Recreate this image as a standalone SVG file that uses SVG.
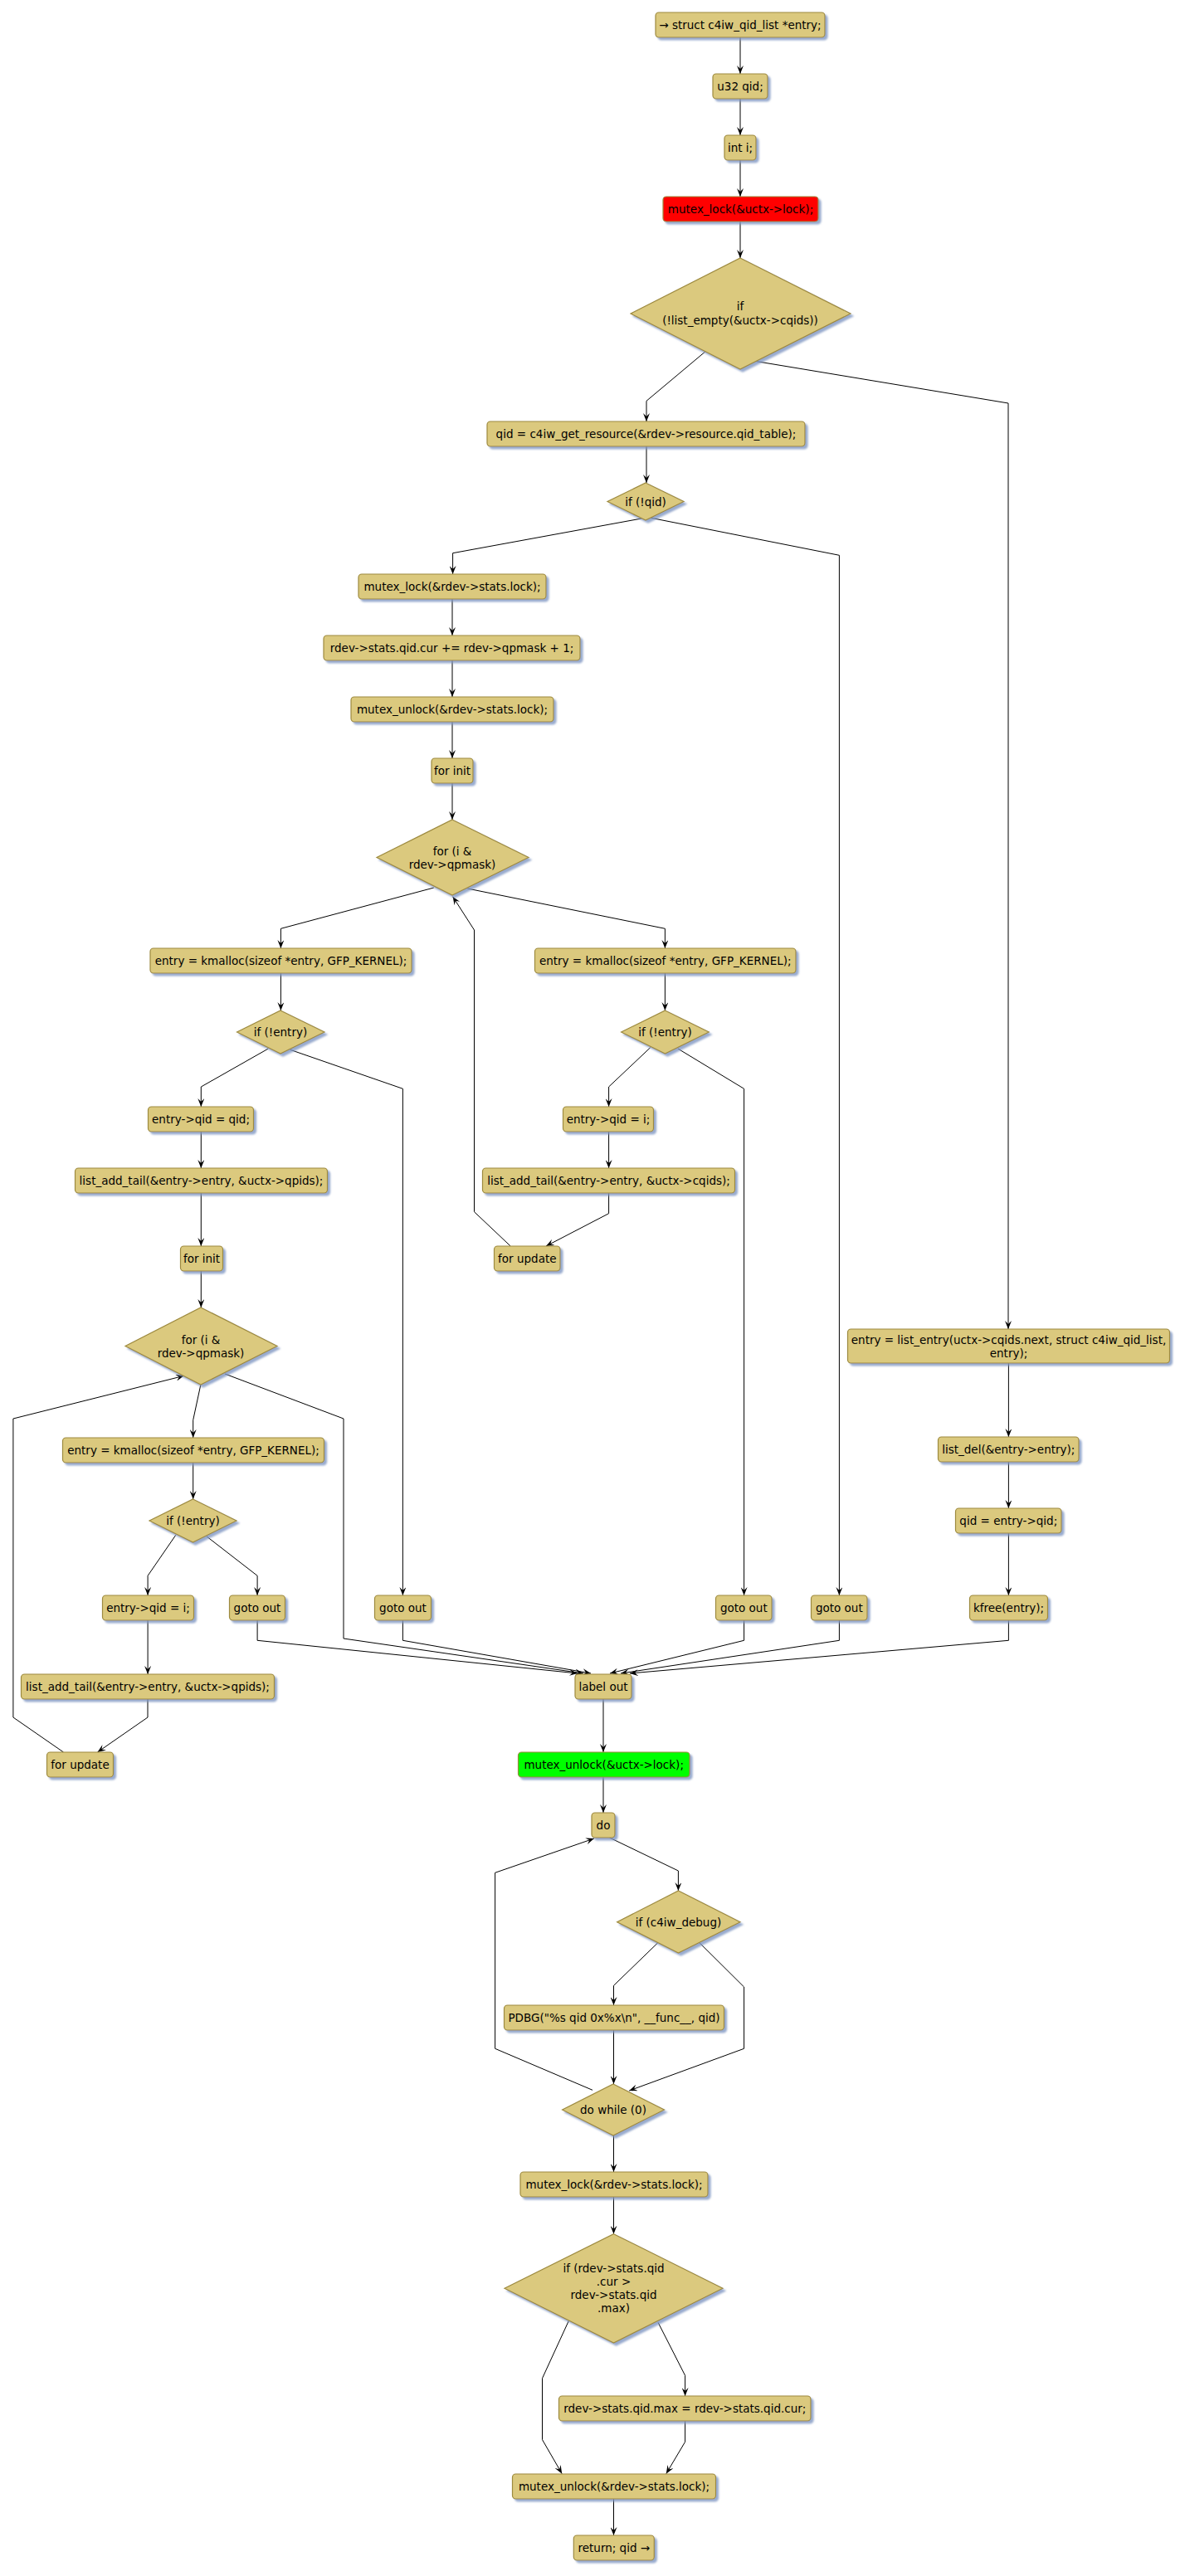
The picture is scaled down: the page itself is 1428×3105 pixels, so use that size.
<svg xmlns="http://www.w3.org/2000/svg" width="1428" height="3105" viewBox="0 0 1428 3105">
<style>
.b{fill:#DBC97E;stroke:#9D8A3F;stroke-width:1.2;filter:url(#sh)}
.red{fill:#FF0000}
.grn{fill:#00FF00}
text{font-family:"DejaVu Sans","Liberation Sans",sans-serif;font-size:13.5px;fill:#000;text-anchor:middle}
.e{fill:none;stroke:#000;stroke-width:1;marker-end:url(#ar)}
</style>
<defs>
<filter id="sh" x="-10%" y="-20%" width="130%" height="150%">
<feDropShadow dx="3" dy="3" stdDeviation="1" flood-color="#7F95C2" flood-opacity="0.8"/>
</filter>
<marker id="ar" viewBox="0 0 10 8" refX="10" refY="4" markerWidth="10" markerHeight="8" markerUnits="userSpaceOnUse" orient="auto">
<path d="M0,0 L10,4 L0,8 L4,4 Z" fill="#000"/>
</marker>
</defs>
<rect width="1428" height="3105" fill="#FFFFFF"/>
<g id="connectors">
<polyline class="e" points="892,45 892,89"/>
<polyline class="e" points="892,119 892,163"/>
<polyline class="e" points="892,193 892,237"/>
<polyline class="e" points="892,267 892,311"/>
<polyline class="e" points="849.7,424 779,483.3 779,508"/>
<polyline class="e" points="909.8,435.3 1215,486 1215,1602"/>
<polyline class="e" points="779,538 779,582"/>
<polyline class="e" points="773,625 545.6,666.7 545.6,692"/>
<polyline class="e" points="784.6,624.3 1011.4,669.3 1011.4,1923"/>
<polyline class="e" points="545,722 545,766"/>
<polyline class="e" points="545,796 545,840"/>
<polyline class="e" points="545,870 545,914"/>
<polyline class="e" points="545,944 545,988"/>
<polyline class="e" points="522.8,1070 338.4,1119.3 338.4,1143"/>
<polyline class="e" points="563.3,1071 801.4,1119.3 801.4,1143"/>
<polyline class="e" points="338.4,1173 338.4,1218"/>
<polyline class="e" points="323.3,1264 242.3,1310 242.3,1334"/>
<polyline class="e" points="349.7,1265.3 485.4,1312.3 485.4,1923"/>
<polyline class="e" points="242.3,1364 242.3,1408"/>
<polyline class="e" points="242.3,1438 242.3,1502"/>
<polyline class="e" points="242.3,1532 242.3,1576"/>
<polyline class="e" points="241.8,1669.3 232.7,1711.7 232.7,1733"/>
<polyline class="e" points="271,1656 414,1710 414,1975 703,2017"/>
<polyline class="e" points="232.7,1763 232.7,1807"/>
<polyline class="e" points="211.8,1850.3 178.1,1899.3 178.1,1923"/>
<polyline class="e" points="249.1,1852 310.1,1899.3 310.1,1923"/>
<polyline class="e" points="178.1,1953 178.1,2018"/>
<polyline class="e" points="178,2048 178,2070 117.5,2112"/>
<polyline class="e" points="76.5,2112 15.9,2070 15.9,1710 221.8,1658.3"/>
<polyline class="e" points="310.1,1953 310.1,1977.3 696,2017"/>
<polyline class="e" points="485.4,1953 485.4,1977.3 712,2017"/>
<polyline class="e" points="801.4,1173 801.4,1218"/>
<polyline class="e" points="783.7,1262.7 733.6,1310 733.6,1334"/>
<polyline class="e" points="816.9,1264 896.6,1312.3 896.6,1923"/>
<polyline class="e" points="733.6,1364 733.6,1408"/>
<polyline class="e" points="733.6,1438 733.6,1462.7 658,1502"/>
<polyline class="e" points="615.2,1502 571.5,1460.7 571.5,1121 545.6,1080.7"/>
<polyline class="e" points="896.6,1953 896.6,1977.3 735,2017"/>
<polyline class="e" points="1011.4,1953 1011.4,1977.3 748,2017"/>
<polyline class="e" points="1215.4,1643 1215.4,1732"/>
<polyline class="e" points="1215.4,1762 1215.4,1818"/>
<polyline class="e" points="1215.4,1848 1215.4,1923"/>
<polyline class="e" points="1215.4,1953 1215.4,1977.3 759,2017"/>
<polyline class="e" points="727,2048 727,2112"/>
<polyline class="e" points="727,2142 727,2185"/>
<polyline class="e" points="734.5,2215 817.4,2255 817.4,2279"/>
<polyline class="e" points="792.8,2341.7 739.5,2393.3 739.5,2417"/>
<polyline class="e" points="842.9,2341.7 896.6,2395 896.6,2469.3 758.2,2520"/>
<polyline class="e" points="739.5,2447 739.5,2512"/>
<polyline class="e" points="714,2519.3 596.6,2469.3 596.6,2257.3 716,2216"/>
<polyline class="e" points="739.5,2574 739.5,2618"/>
<polyline class="e" points="739.5,2648 739.5,2692.7"/>
<polyline class="e" points="793,2799.3 825.6,2863.3 825.6,2888"/>
<polyline class="e" points="685.4,2797.3 653.5,2866.7 653.5,2940.7 677.2,2981.7"/>
<polyline class="e" points="825.6,2918 825.6,2943.3 802.8,2981.7"/>
<polyline class="e" points="739.5,3012 739.5,3056"/>
</g>
<g id="n1"><rect class="b" x="790" y="15" width="204" height="30" rx="4"/><text x="892" y="35">→ struct c4iw_qid_list *entry;</text></g>
<g id="n2"><rect class="b" x="859" y="89" width="66" height="30" rx="4"/><text x="892" y="109">u32 qid;</text></g>
<g id="n3"><rect class="b" x="873" y="163" width="38" height="30" rx="4"/><text x="892" y="183">int i;</text></g>
<g id="n4"><rect class="b red" x="799" y="237" width="187" height="30" rx="4"/><text x="892.5" y="257">mutex_lock(&amp;uctx-&gt;lock);</text></g>
<g id="d1"><polygon class="b" points="892,311 1025,378 892,445 760,378"/><text x="892" y="373.5">if</text><text x="892" y="391">(!list_empty(&amp;uctx-&gt;cqids))</text></g>
<g id="n5"><rect class="b" x="587" y="508" width="383" height="30" rx="4"/><text x="778.5" y="528">qid = c4iw_get_resource(&amp;rdev-&gt;resource.qid_table);</text></g>
<g id="d2"><polygon class="b" points="778,582 824,604.5 778,627 732,604.5"/><text x="778" y="609.5">if (!qid)</text></g>
<g id="n6"><rect class="b" x="432" y="692" width="226" height="30" rx="4"/><text x="545" y="712">mutex_lock(&amp;rdev-&gt;stats.lock);</text></g>
<g id="n7"><rect class="b" x="390" y="766" width="309" height="30" rx="4"/><text x="544.5" y="786">rdev-&gt;stats.qid.cur += rdev-&gt;qpmask + 1;</text></g>
<g id="n8"><rect class="b" x="423" y="840" width="244" height="30" rx="4"/><text x="545" y="860">mutex_unlock(&amp;rdev-&gt;stats.lock);</text></g>
<g id="n9"><rect class="b" x="520" y="914" width="50" height="30" rx="4"/><text x="545" y="934">for init</text></g>
<g id="d3"><polygon class="b" points="545,988 637,1033.5 545,1079 454,1033.5"/><text x="545" y="1030.5">for (i &amp;</text><text x="545" y="1046.5">rdev-&gt;qpmask)</text></g>
<g id="n10"><rect class="b" x="181" y="1143" width="315" height="30" rx="4"/><text x="338.5" y="1163">entry = kmalloc(sizeof *entry, GFP_KERNEL);</text></g>
<g id="d4"><polygon class="b" points="338,1218 391,1244 338,1270 285.5,1244"/><text x="338" y="1249">if (!entry)</text></g>
<g id="n11"><rect class="b" x="178.5" y="1334" width="127" height="30" rx="4"/><text x="242" y="1354">entry-&gt;qid = qid;</text></g>
<g id="n12"><rect class="b" x="90.5" y="1408" width="304" height="30" rx="4"/><text x="242.5" y="1428">list_add_tail(&amp;entry-&gt;entry, &amp;uctx-&gt;qpids);</text></g>
<g id="n13"><rect class="b" x="217.5" y="1502" width="51" height="30" rx="4"/><text x="243" y="1522">for init</text></g>
<g id="d5"><polygon class="b" points="242,1576 334,1622.5 242,1669 151,1622.5"/><text x="242" y="1619.5">for (i &amp;</text><text x="242" y="1635.5">rdev-&gt;qpmask)</text></g>
<g id="n14"><rect class="b" x="75.5" y="1733" width="315" height="30" rx="4"/><text x="233" y="1753">entry = kmalloc(sizeof *entry, GFP_KERNEL);</text></g>
<g id="d6"><polygon class="b" points="232.5,1807 285,1833 232.5,1859 180,1833"/><text x="232.5" y="1838">if (!entry)</text></g>
<g id="n15"><rect class="b" x="123.5" y="1923" width="110" height="30" rx="4"/><text x="178.5" y="1943">entry-&gt;qid = i;</text></g>
<g id="n16"><rect class="b" x="276.5" y="1923" width="67" height="30" rx="4"/><text x="310" y="1943">goto out</text></g>
<g id="n17"><rect class="b" x="25.5" y="2018" width="305" height="30" rx="4"/><text x="178" y="2038">list_add_tail(&amp;entry-&gt;entry, &amp;uctx-&gt;qpids);</text></g>
<g id="n18"><rect class="b" x="56.5" y="2112" width="80" height="30" rx="4"/><text x="96.5" y="2132">for update</text></g>
<g id="n19"><rect class="b" x="451.5" y="1923" width="68" height="30" rx="4"/><text x="485.5" y="1943">goto out</text></g>
<g id="n20"><rect class="b" x="644.5" y="1143" width="314.5" height="30" rx="4"/><text x="801.7" y="1163">entry = kmalloc(sizeof *entry, GFP_KERNEL);</text></g>
<g id="d7"><polygon class="b" points="801.5,1218 854.3,1244 801.5,1270 748.6,1244"/><text x="801.5" y="1249">if (!entry)</text></g>
<g id="n21"><rect class="b" x="678.5" y="1334" width="109" height="30" rx="4"/><text x="733" y="1354">entry-&gt;qid = i;</text></g>
<g id="n22"><rect class="b" x="581.5" y="1408" width="304" height="30" rx="4"/><text x="733.5" y="1428">list_add_tail(&amp;entry-&gt;entry, &amp;uctx-&gt;cqids);</text></g>
<g id="n23"><rect class="b" x="595.5" y="1502" width="79.5" height="30" rx="4"/><text x="635.3" y="1522">for update</text></g>
<g id="n24"><rect class="b" x="862.5" y="1923" width="67.5" height="30" rx="4"/><text x="896.3" y="1943">goto out</text></g>
<g id="n25"><rect class="b" x="977.5" y="1923" width="67.5" height="30" rx="4"/><text x="1011.3" y="1943">goto out</text></g>
<g id="n26"><rect class="b" x="1021.5" y="1602" width="388" height="41" rx="4"/><text x="1215.5" y="1619.5">entry = list_entry(uctx-&gt;cqids.next, struct c4iw_qid_list,</text><text x="1215.5" y="1635.5">entry);</text></g>
<g id="n27"><rect class="b" x="1130.5" y="1732" width="169.5" height="30" rx="4"/><text x="1215.3" y="1752">list_del(&amp;entry-&gt;entry);</text></g>
<g id="n28"><rect class="b" x="1151.5" y="1818" width="127.5" height="30" rx="4"/><text x="1215.3" y="1838">qid = entry-&gt;qid;</text></g>
<g id="n29"><rect class="b" x="1168.5" y="1923" width="94" height="30" rx="4"/><text x="1215.5" y="1943">kfree(entry);</text></g>
<g id="n30"><rect class="b" x="693" y="2018" width="68" height="30" rx="4"/><text x="727" y="2038">label out</text></g>
<g id="n31"><rect class="b grn" x="624.5" y="2112" width="206.5" height="30" rx="4"/><text x="727.7" y="2132">mutex_unlock(&amp;uctx-&gt;lock);</text></g>
<g id="n32"><rect class="b" x="713" y="2185" width="28" height="30" rx="4"/><text x="727" y="2205">do</text></g>
<g id="d8"><polygon class="b" points="817.5,2279 892,2316.7 817.5,2354 743.6,2316.7"/><text x="817.5" y="2321.5">if (c4iw_debug)</text></g>
<g id="n33"><rect class="b" x="607.5" y="2417" width="265" height="30" rx="4"/><text x="740" y="2437">PDBG("%s qid 0x%x\n", __func__, qid)</text></g>
<g id="d9"><polygon class="b" points="739,2512 800.5,2543 739,2574 677.6,2543"/><text x="739" y="2548">do while (0)</text></g>
<g id="n34"><rect class="b" x="627" y="2618" width="226" height="30" rx="4"/><text x="740" y="2638">mutex_lock(&amp;rdev-&gt;stats.lock);</text></g>
<g id="d10"><polygon class="b" points="739.5,2692.7 871,2758.3 739.5,2824 608,2758.3"/><text x="739.5" y="2738.8">if (rdev-&gt;stats.qid</text><text x="739.5" y="2754.5">.cur &gt;</text><text x="739.5" y="2770.5">rdev-&gt;stats.qid</text><text x="739.5" y="2787.2">.max)</text></g>
<g id="n35"><rect class="b" x="673.5" y="2888" width="303.5" height="30" rx="4"/><text x="825.3" y="2908">rdev-&gt;stats.qid.max = rdev-&gt;stats.qid.cur;</text></g>
<g id="n36"><rect class="b" x="617.5" y="2982" width="245" height="30" rx="4"/><text x="740" y="3002">mutex_unlock(&amp;rdev-&gt;stats.lock);</text></g>
<g id="n37"><rect class="b" x="691.3" y="3056" width="97" height="30" rx="4"/><text x="739.8" y="3076">return; qid →</text></g>
</svg>
